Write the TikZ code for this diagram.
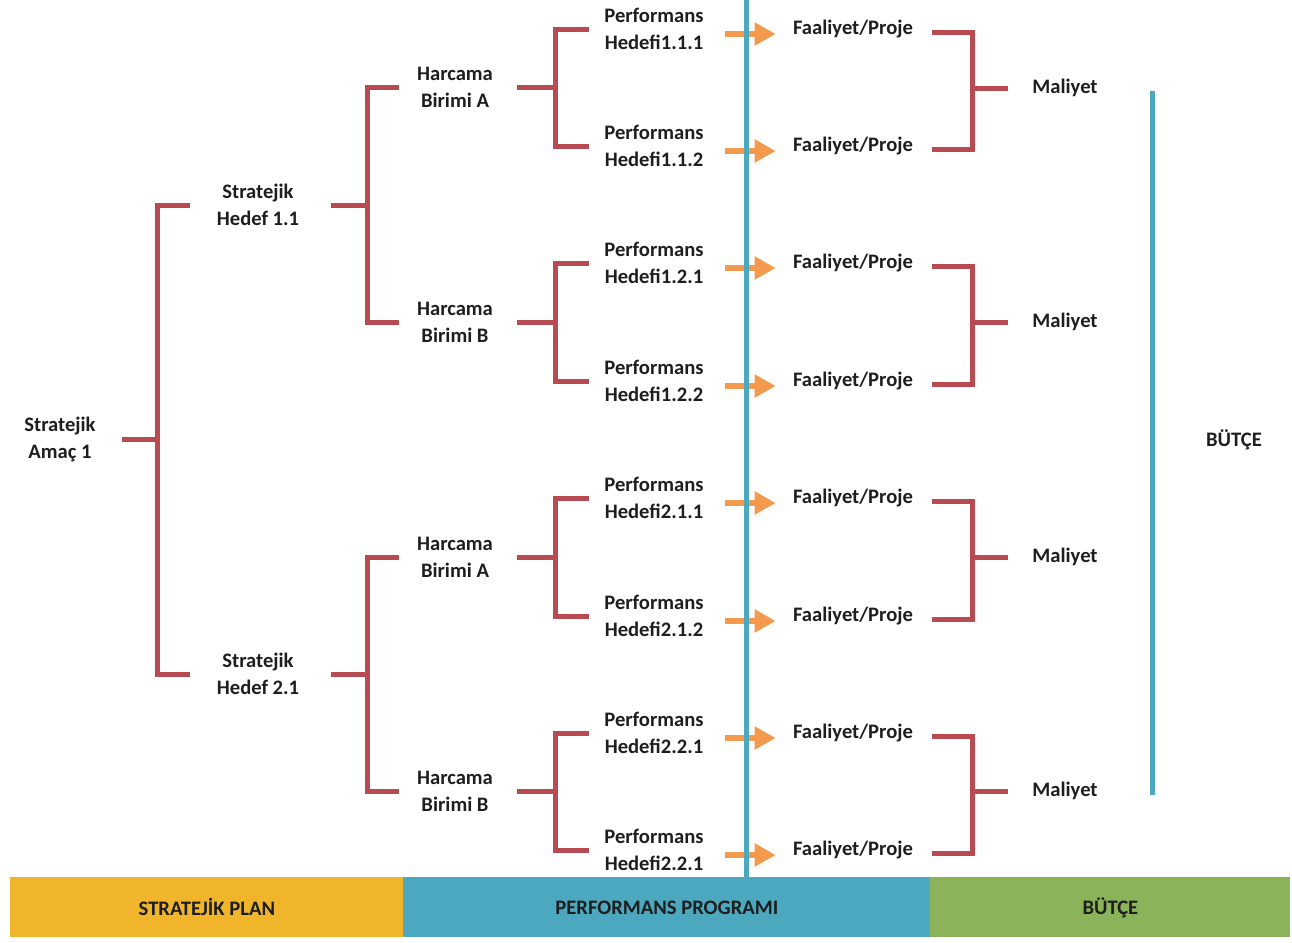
\documentclass[tikz,border=0pt]{standalone}
\usepackage{fontspec}
\setmainfont{Carlito}
\usetikzlibrary{arrows.meta}
\definecolor{brc}{HTML}{B84A52}
\definecolor{arc}{HTML}{F39A4E}
\definecolor{tlc}{HTML}{4BA8BE}
\definecolor{ylw}{HTML}{F1B52C}
\definecolor{grn}{HTML}{8BB35A}
\definecolor{txt}{HTML}{1E1E1E}
\begin{document}
\begin{tikzpicture}[x=0.5pt,y=-0.5pt,
  lbl/.style={font=\fontsize{10.3}{13.5}\selectfont\bfseries, text=txt, align=center, inner sep=0pt},
  br/.style={draw=brc, line width=2.5pt, line join=miter},
  arr/.style={draw=arc, line width=3pt, -{Triangle[length=10.5pt,width=11pt]}},
  tl/.style={draw=tlc, line width=2.5pt},
  bar/.style={anchor=north west, minimum height=30pt, inner sep=0pt, text=txt,
    font=\fontsize{10.3}{12}\selectfont\bfseries}]
\useasboundingbox (0,0) rectangle (1292,943);

% level 0-2 labels
\node[lbl] (am1) at (60,439) {Stratejik\\Amaç 1};
\node[lbl] (h11) at (258,205) {Stratejik\\Hedef 1.1};
\node[lbl] (h21) at (258,674) {Stratejik\\Hedef 2.1};
\node[lbl] (hA1) at (455,87) {Harcama\\Birimi A};
\node[lbl] (hB1) at (455,322) {Harcama\\Birimi B};
\node[lbl] (hA2) at (455,557) {Harcama\\Birimi A};
\node[lbl] (hB2) at (455,791) {Harcama\\Birimi B};

% performans / faaliyet
\foreach \i/\y/\t in {1/29/1.1.1,2/146/1.1.2,3/263/1.2.1,4/381/1.2.2,5/498/2.1.1,6/616/2.1.2,7/733/2.2.1,8/850/2.2.1}{
  \node[lbl] (p\i) at (654,\y) {Performans\\Hedefi\t};
  \node[lbl] (f\i) at (853,\y) {Faaliyet/Proje};
  \draw[arr] ([xshift=10.5pt,yshift=-2.5pt]p\i.east) -- ([xshift=-8.5pt,yshift=-2.5pt]f\i.west);
}

% maliyet
\node[lbl] (m1) at (1065,88) {Maliyet};
\node[lbl] (m2) at (1065,322) {Maliyet};
\node[lbl] (m3) at (1065,557) {Maliyet};
\node[lbl] (m4) at (1065,791) {Maliyet};
\node[lbl] (bu) at (1234,440) {BÜTÇE};

% bars
\node[bar, fill=ylw, minimum width=196.5pt] (sp) at (10,877) {STRATEJİK PLAN};
\node[bar, fill=tlc, minimum width=263.5pt] (pp) at (403,877) {PERFORMANS PROGRAMI};
\node[bar, fill=grn, minimum width=180pt] (bt) at (930,877) {BÜTÇE};

% junctions
\coordinate (j0) at (157,440);
\coordinate (j1) at (367,207);
\coordinate (j2) at (367,678);
\coordinate (ja1) at (555,93);
\coordinate (jb1) at (555,325);
\coordinate (ja2) at (555,560);
\coordinate (jb2) at (555,797);
\coordinate (k1) at (972,89);
\coordinate (k2) at (972,323);
\coordinate (k3) at (972,557);
\coordinate (k4) at (972,795);

% left brackets
\draw[br] ([xshift=-13.5pt]h11.west) -| (j0) |- ([xshift=-13.5pt]h21.west);
\draw[br] ([xshift=13pt]am1.east) -- (am1.east -| j0);
\draw[br] ([xshift=-9pt]hA1.west) -| (j1) |- ([xshift=-9pt]hB1.west);
\draw[br] ([xshift=15.5pt]h11.east) -- (h11.east -| j1);
\draw[br] ([xshift=-9pt]hA2.west) -| (j2) |- ([xshift=-9pt]hB2.west);
\draw[br] ([xshift=15.5pt]h21.east) -- (h21.east -| j2);
\draw[br] ([xshift=-7.5pt]p1.west) -| (ja1) |- ([xshift=-7.5pt]p2.west);
\draw[br] ([xshift=12pt]hA1.east) -- (hA1.east -| ja1);
\draw[br] ([xshift=-7.5pt]p3.west) -| (jb1) |- ([xshift=-7.5pt]p4.west);
\draw[br] ([xshift=12pt]hB1.east) -- (hB1.east -| jb1);
\draw[br] ([xshift=-7.5pt]p5.west) -| (ja2) |- ([xshift=-7.5pt]p6.west);
\draw[br] ([xshift=12pt]hA2.east) -- (hA2.east -| ja2);
\draw[br] ([xshift=-7.5pt]p7.west) -| (jb2) |- ([xshift=-7.5pt]p8.west);
\draw[br] ([xshift=12pt]hB2.east) -- (hB2.east -| jb2);

% right brackets
\draw[br] ([xshift=9.5pt,yshift=-1.5pt]f1.east) -| (k1) |- ([xshift=9.5pt,yshift=-1.5pt]f2.east);
\draw[br] ([xshift=-12pt]m1.west) -- (m1.west -| k1);
\draw[br] ([xshift=9.5pt,yshift=-1.5pt]f3.east) -| (k2) |- ([xshift=9.5pt,yshift=-1.5pt]f4.east);
\draw[br] ([xshift=-12pt]m2.west) -- (m2.west -| k2);
\draw[br] ([xshift=9.5pt,yshift=-1.5pt]f5.east) -| (k3) |- ([xshift=9.5pt,yshift=-1.5pt]f6.east);
\draw[br] ([xshift=-12pt]m3.west) -- (m3.west -| k3);
\draw[br] ([xshift=9.5pt,yshift=-1.5pt]f7.east) -| (k4) |- ([xshift=9.5pt,yshift=-1.5pt]f8.east);
\draw[br] ([xshift=-12pt]m4.west) -- (m4.west -| k4);

% teal lines
\coordinate (vt) at (746,0);
\draw[tl] (vt) -- (vt |- pp.north);
\coordinate (r1) at (1152,91);
\coordinate (r2) at (1152,795);
\draw[tl] (r1) -- (r2);
\end{tikzpicture}
\end{document}
